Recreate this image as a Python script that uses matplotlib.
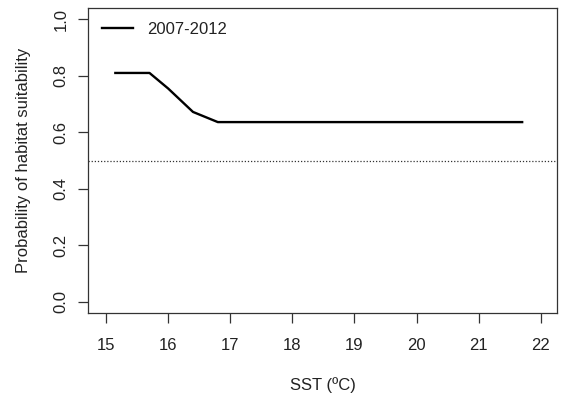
import matplotlib.pyplot as plt

plt.rcParams['font.family'] = ['Liberation Sans', 'DejaVu Sans']

# Habitat suitability curve
sst = [15.15, 15.70, 16.00, 16.40, 16.80, 21.70]
prob = [0.81, 0.81, 0.755, 0.672, 0.636, 0.636]
series_label = '2007-2012'
threshold = 0.5

xticks = [15, 16, 17, 18, 19, 20, 21, 22]
yticks = [0.0, 0.2, 0.4, 0.6, 0.8, 1.0]

fig = plt.figure(figsize=(5.66, 4.0), dpi=100)
ax = fig.add_axes([0.1555, 0.2175, 0.8285, 0.7625])

ax.plot(sst, prob, color='black', lw=1.7, label=series_label)
ax.axhline(threshold, color='#333333', lw=0.9, ls=(0, (1, 1.5)))

ax.set_xlim(14.71, 22.26)
ax.set_ylim(-0.04, 1.04)
ax.set_xticks(xticks)
ax.set_xticklabels([str(v) for v in xticks])
ax.set_yticks(yticks)
ax.set_yticklabels(['%.1f' % v for v in yticks], rotation=90, va='center')

for s in ax.spines.values():
    s.set_color('#333333')
    s.set_linewidth(0.9)
ax.tick_params(direction='out', length=7, width=0.9, color='#333333',
               labelsize=12, labelcolor='#222222')
ax.tick_params(axis='x', pad=11)
ax.tick_params(axis='y', pad=7)

ax.set_xlabel('SST (ºC)', fontsize=12, color='#222222', labelpad=17)
ax.set_ylabel('Probability of habitat suitability', fontsize=12,
              color='#222222', labelpad=16)

ax.legend(loc='upper left', frameon=False, fontsize=12, handlelength=1.85,
          handletextpad=0.85, borderaxespad=0.45, labelcolor='#222222')

fig.savefig('out.png', dpi=100)
